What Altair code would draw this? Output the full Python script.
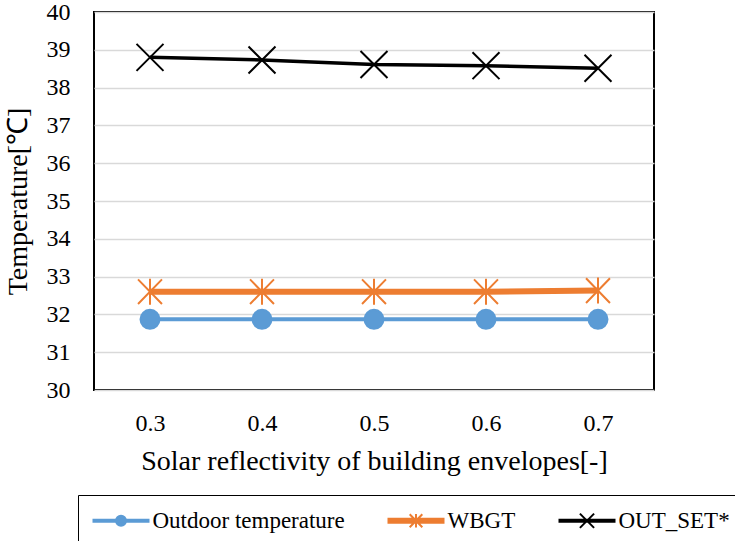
import altair as alt
import pandas as pd

# ---- data ----
reflectivity = [0.3, 0.4, 0.5, 0.6, 0.7]
outdoor_temp = [31.87, 31.87, 31.87, 31.87, 31.87]
wbgt = [32.60, 32.60, 32.60, 32.60, 32.63]
out_set = [38.80, 38.73, 38.61, 38.58, 38.51]

series_names = ["Outdoor temperature", "WBGT", "OUT_SET*"]
series_values = [outdoor_temp, wbgt, out_set]
colors = ["#5b9bd5", "#ed7d31", "#000000"]
line_widths = [4, 6, 3.5]
# marker shapes (unit paths): filled circle, asterisk, cross
marker_paths = [
    "M-1,0A1,1,0,1,1,1,0A1,1,0,1,1,-1,0Z",
    "M0,-1.37L0,1.37M-1.26,-1.3L1.26,1.3M-1.26,1.3L1.26,-1.3",
    "M-1.42,-1.42L1.42,1.42M-1.42,1.42L1.42,-1.42",
]
# legend keys: a short line segment (thin filled bar) with the marker on it
legend_bar_half = [0.2, 0.4, 0.2]
legend_paths = [
    f"M-5.5,-{h}L5.5,-{h}L5.5,{h}L-5.5,{h}Z" + m
    for h, m in zip(legend_bar_half, marker_paths)
]
y_ticks = [30, 31, 32, 33, 34, 35, 36, 37, 38, 39, 40]

rows = []
for name, vals in zip(series_names, series_values):
    for r, v in zip(reflectivity, vals):
        rows.append({"r": r, "t": v, "series": name})
df = pd.DataFrame(rows)

FONT = "Liberation Serif"

x_enc = alt.X(
    "r:Q",
    scale=alt.Scale(domain=[0.25, 0.75], nice=False, zero=False),
    axis=alt.Axis(
        values=reflectivity, format=".1f", grid=False, domain=False, ticks=False,
        labelFontSize=24, labelPadding=21, labelFont=FONT, labelColor="#000",
        title="Solar reflectivity of building envelopes[-]",
        titleFontSize=28, titleFont=FONT, titleFontWeight="normal",
        titleColor="#000", titlePadding=12,
    ),
)
y_enc = alt.Y(
    "t:Q",
    scale=alt.Scale(domain=[30, 40], nice=False, zero=False),
    axis=alt.Axis(
        values=y_ticks, grid=True, gridColor="#d9d9d9", gridWidth=1.5,
        domain=False, ticks=False,
        labelFontSize=24, labelPadding=24, labelFont=FONT, labelColor="#000",
        title="Temperature[℃]", titleFontSize=28, titleFont=FONT,
        titleFontWeight="normal", titleColor="#000", titlePadding=14,
    ),
)

color_scale = alt.Scale(domain=series_names, range=colors)

width_rule = alt.when(alt.datum.series == series_names[1]).then(alt.value(line_widths[1]))
width_rule = width_rule.when(alt.datum.series == series_names[2]).then(alt.value(line_widths[2]))
width_rule = width_rule.otherwise(alt.value(line_widths[0]))

lines = alt.Chart(df).mark_line().encode(
    x=x_enc,
    y=y_enc,
    color=alt.Color("series:N", scale=color_scale, legend=None),
    strokeWidth=width_rule,
)

points = alt.Chart(df).mark_point(filled=True, size=361, strokeWidth=2, opacity=1).encode(
    x=x_enc,
    y=y_enc,
    color=alt.Color("series:N", scale=color_scale, legend=None),
    stroke=alt.Stroke("series:N", scale=color_scale, legend=None),
    shape=alt.Shape(
        "series:N", scale=alt.Scale(domain=series_names, range=marker_paths),
        legend=None,
    ),
)

key_legend = alt.Legend(
    title=None, orient="none", legendX=-16, legendY=483, direction="horizontal",
    columns=3, symbolSize=100, symbolStrokeWidth=2, symbolOpacity=1,
    symbolOffset=17.5, labelOffset=20, labelFontSize=23, labelFont=FONT,
    labelColor="#000", columnPadding=39, padding=14, strokeColor="#000",
    labelLimit=400,
)

legend_keys = alt.Chart(df).mark_point(filled=True, size=0, strokeWidth=2, opacity=0).encode(
    x=x_enc,
    y=y_enc,
    color=alt.Color("series:N", scale=color_scale, legend=key_legend),
    stroke=alt.Stroke("series:N", scale=color_scale, legend=key_legend),
    shape=alt.Shape(
        "series:N", scale=alt.Scale(domain=series_names, range=legend_paths),
        legend=key_legend,
    ),
)

chart = (
    alt.layer(lines, points, legend_keys)
    .resolve_scale(shape="independent")
    .resolve_legend(color="independent", stroke="independent", shape="independent")
    .properties(
        width=560, height=378,
        autosize=alt.AutoSizeParams(type="none"),
        padding={"left": 94, "top": 12, "right": 81, "bottom": 151},
        background="white",
    )
    .configure(font=FONT)
    .configure_view(stroke="#000", strokeWidth=2)
)

chart.save("out.html", embed_options={"renderer": "svg", "actions": False})
